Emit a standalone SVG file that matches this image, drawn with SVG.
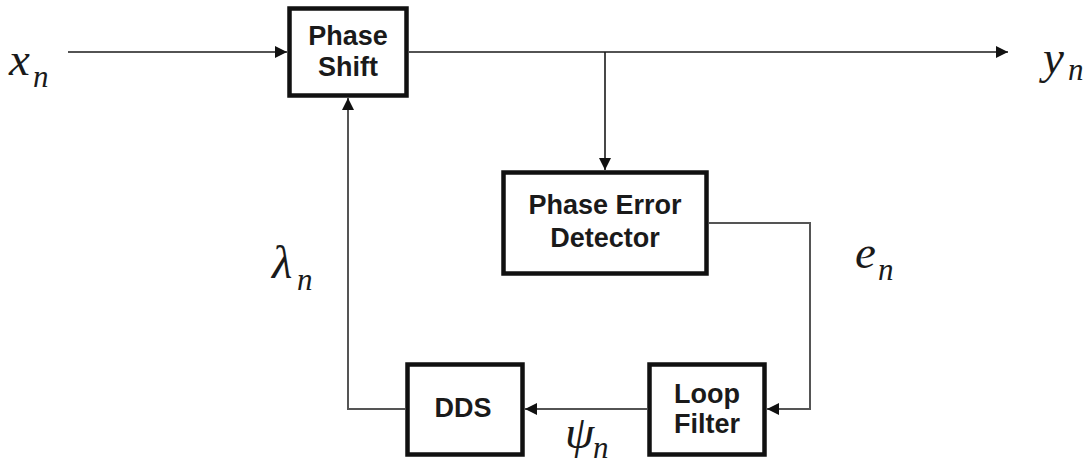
<svg xmlns="http://www.w3.org/2000/svg" width="1092" height="463" viewBox="0 0 1092 463">
<defs>
<marker id="ah" viewBox="0 0 10 10" refX="10" refY="5" markerWidth="13" markerHeight="12" markerUnits="userSpaceOnUse" orient="auto">
<path d="M0,0 L10,5 L0,10 z" fill="#111"/>
</marker>
<style>
.box{fill:#fff;stroke:#111;stroke-width:4.5}
.lbl{font-family:"Liberation Sans",Arial,sans-serif;font-weight:bold;font-size:27px;fill:#1a1a1a;text-anchor:middle}
.ln{fill:none;stroke:#1a1a1a;stroke-width:1.6}
.lg{fill:none;stroke:#555;stroke-width:2}
.m{font-family:"Liberation Serif","Times New Roman",serif;font-style:italic;fill:#1a1a1a}
.big{font-size:47px}
.sub{font-size:31px}
</style>
</defs>
<rect width="1092" height="463" fill="#fff"/>
<g id="connectors">
<line class="ln" x1="68" y1="52" x2="287" y2="52" marker-end="url(#ah)"/>
<line class="ln" x1="409" y1="52" x2="1008" y2="52" marker-end="url(#ah)"/>
<line class="ln" x1="605" y1="52" x2="605" y2="170" marker-end="url(#ah)"/>
<polyline class="lg" points="709,223 810,223 810,409 767,409" marker-end="url(#ah)"/>
<line class="ln" x1="647" y1="409" x2="525" y2="409" marker-end="url(#ah)"/>
<polyline class="lg" points="405,409 348,409 348,98" marker-end="url(#ah)"/>
</g>
<g id="phase-shift">
<rect class="box" x="289.5" y="8.5" width="117" height="87"/>
<text class="lbl" x="348" y="45">Phase</text>
<text class="lbl" x="348" y="76">Shift</text>
</g>
<g id="phase-error-detector">
<rect class="box" x="503.5" y="172.5" width="203" height="101"/>
<text class="lbl" x="605" y="214">Phase Error</text>
<text class="lbl" x="605" y="247">Detector</text>
</g>
<g id="dds">
<rect class="box" x="407.5" y="364.5" width="115" height="90"/>
<text class="lbl" x="463" y="417">DDS</text>
</g>
<g id="loop-filter">
<rect class="box" x="649.5" y="364.5" width="115" height="90"/>
<text class="lbl" x="707" y="403">Loop</text>
<text class="lbl" x="707" y="433">Filter</text>
</g>
<g id="labels">
<text class="m big" x="9" y="75">x</text><text class="m sub" x="33" y="87">n</text>
<text class="m big" x="1043" y="73">y</text><text class="m sub" x="1068" y="80">n</text>
<text class="m big" x="855" y="268">e</text><text class="m sub" x="878" y="280">n</text>
<text class="m big" x="272" y="278">λ</text><text class="m sub" x="297" y="290">n</text>
<text class="m big" x="565" y="448">ψ</text><text class="m sub" x="593" y="458">n</text>
</g>
</svg>
